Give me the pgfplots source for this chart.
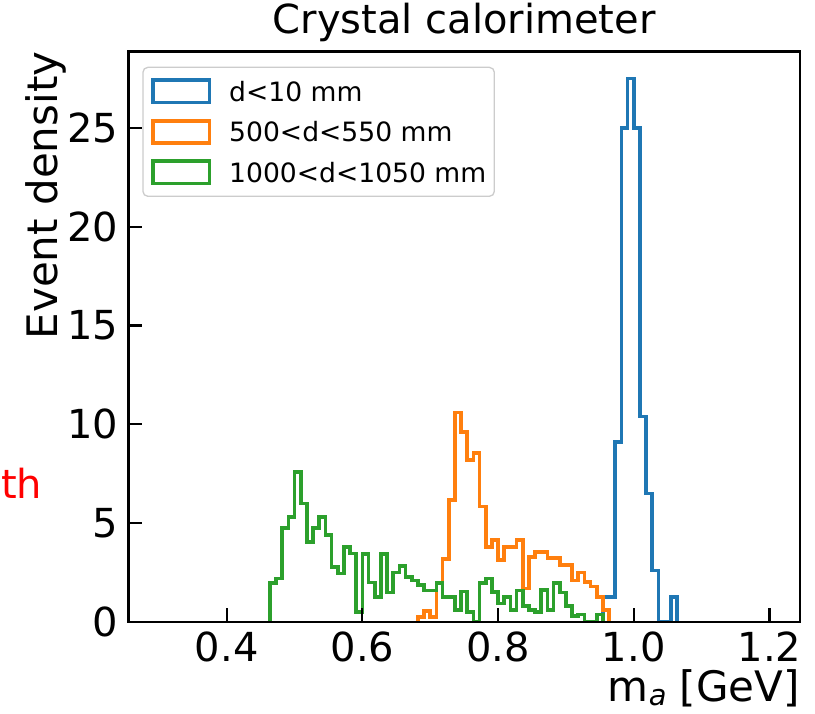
\documentclass[border=0pt]{standalone}
\usepackage{fontspec}
\setmainfont{DejaVu Sans}
\usepackage{pgfplots}
\pgfplotsset{compat=1.18}
\definecolor{tabblue}{HTML}{1F77B4}
\definecolor{taborange}{HTML}{FF7F0E}
\definecolor{tabgreen}{HTML}{2CA02C}
\newcommand{\fbig}{\fontsize{40}{48}\selectfont}
\newcommand{\flab}{\fontsize{42}{50}\selectfont}
\newcommand{\fleg}{\fontsize{26.6}{32}\selectfont}
\begin{document}
\begin{tikzpicture}
\useasboundingbox (-128.3pt,-92pt) rectangle (686.7pt,622pt);
\begin{axis}[
  at={(0pt,0pt)}, anchor=south west,
  width=671.7pt, height=570.6pt, scale only axis,
  xmin=0.255, xmax=1.245, ymin=0, ymax=28.875,
  xtick={0.4,0.6,0.8,1.0,1.2}, xticklabels={0.4,0.6,0.8,1.0,1.2},
  ytick={0,5,10,15,20,25}, yticklabels={0,5,10,15,20,25},
  /pgf/number format/assume math mode=true,
  minor tick num=0,
  tick align=inside, xtick pos=lower, ytick pos=lower,
  major tick length=14pt,
  tick style={black, line width=2.2pt},
  axis line style={line width=2.6pt},
  axis on top,
  ticklabel style={font=\fbig, inner sep=0pt},
  xticklabel style={yshift=-10pt},
  yticklabel style={xshift=-10pt},
  title={Crystal calorimeter},
  title style={font=\fbig, at={(axis description cs:0.5,1)}, anchor=base, yshift=12pt, inner sep=0pt},
  ylabel={Event density},
  ylabel style={font=\flab, at={(axis description cs:-0.1056,1)}, anchor=base east, inner sep=0pt},
  xlabel={m\raisebox{-0.1em}{\fontsize{29}{29}\selectfont\itshape a} [GeV]},
  xlabel style={font=\flab, at={(axis description cs:1,0)}, anchor=base east, yshift=-79.5pt, inner sep=0pt},
  legend cell align=left,
  legend image code/.code={\draw[#1, sharp corners] (0pt,-11.15pt) rectangle (56.6pt,11.15pt);},
  legend style={at={(0.0208,0.9732)}, anchor=north west, draw=black!20, line width=1.3pt,
    rounded corners=5pt, fill=white, font=\fleg, inner xsep=8pt, inner ysep=11pt,
    row sep=14.5pt, nodes={inner sep=0pt, text height=22pt, text depth=2.6pt},
    /tikz/every odd column/.append style={column sep=18pt}},
]
\addplot[tabblue, line width=3.7pt, const plot, line join=miter] coordinates {
(0.95455,0) (0.95455,1.25) (0.96364,1.25) (0.97273,9.1) (0.98182,25.0) (0.99091,27.5)
(1.00000,25.0) (1.00909,10.4) (1.01818,6.5) (1.02727,2.6) (1.03636,0) (1.04545,0)
(1.05455,1.25) (1.06364,0)};
\addlegendentry{d<10 mm}
\addplot[taborange, line width=3.7pt, const plot, line join=miter] coordinates {
(0.68182,0) (0.68182,0.25) (0.69091,0.57) (0.70000,0.25) (0.70909,1.96) (0.71818,3.2)
(0.72727,6.17) (0.73636,10.6) (0.74545,9.63) (0.75455,8.2) (0.76364,8.54) (0.77273,5.84)
(0.78182,3.81) (0.79091,4.15) (0.80000,3.14) (0.80909,3.81) (0.81818,3.81) (0.82727,4.15)
(0.83636,1.7) (0.84545,3.3) (0.85455,3.55) (0.86364,3.55) (0.87273,3.25) (0.88182,3.25)
(0.89091,2.9) (0.90000,2.9) (0.90909,2.1) (0.91818,2.5) (0.92727,2.04) (0.93636,1.8)
(0.94545,1.28) (0.95455,0.6) (0.96364,0)};
\addlegendentry{500<d<550 mm}
\addplot[tabgreen, line width=3.7pt, const plot, line join=miter] coordinates {
(0.46364,0) (0.46364,1.96) (0.47273,2.2) (0.48182,4.74) (0.49091,5.33) (0.50000,7.6)
(0.50909,6.0) (0.51818,4.06) (0.52727,4.74) (0.53636,5.33) (0.54545,4.4) (0.55455,2.8)
(0.56364,2.46) (0.57273,3.81) (0.58182,3.47) (0.59091,0.52) (0.60000,3.43) (0.60909,2.0)
(0.61818,1.25) (0.62727,3.43) (0.63636,1.5) (0.64545,2.5) (0.65455,2.85) (0.66364,2.29)
(0.67273,2.1) (0.68182,1.87) (0.69091,1.6) (0.70000,1.6) (0.70909,1.96) (0.71818,1.28)
(0.72727,1.28) (0.73636,0.6) (0.74545,1.55) (0.75455,0.5) (0.76364,0) (0.77273,1.96)
(0.78182,2.2) (0.79091,1.53) (0.80000,0.94) (0.80909,1.28) (0.81818,0.6) (0.82727,1.6)
(0.83636,0.8) (0.84545,0.6) (0.85455,0.5) (0.86364,1.62) (0.87273,0.6) (0.88182,1.96)
(0.89091,1.5) (0.90000,0.8) (0.90909,0.3) (0.91818,0.38) (0.92727,0) (0.93636,0)
(0.94545,0.38) (0.95455,0)};
\addlegendentry{1000<d<1050 mm}
\end{axis}
\node[anchor=base west, text=red, font=\fbig, inner sep=0pt] at (-127.3pt,123pt) {th};
\end{tikzpicture}
\end{document}
